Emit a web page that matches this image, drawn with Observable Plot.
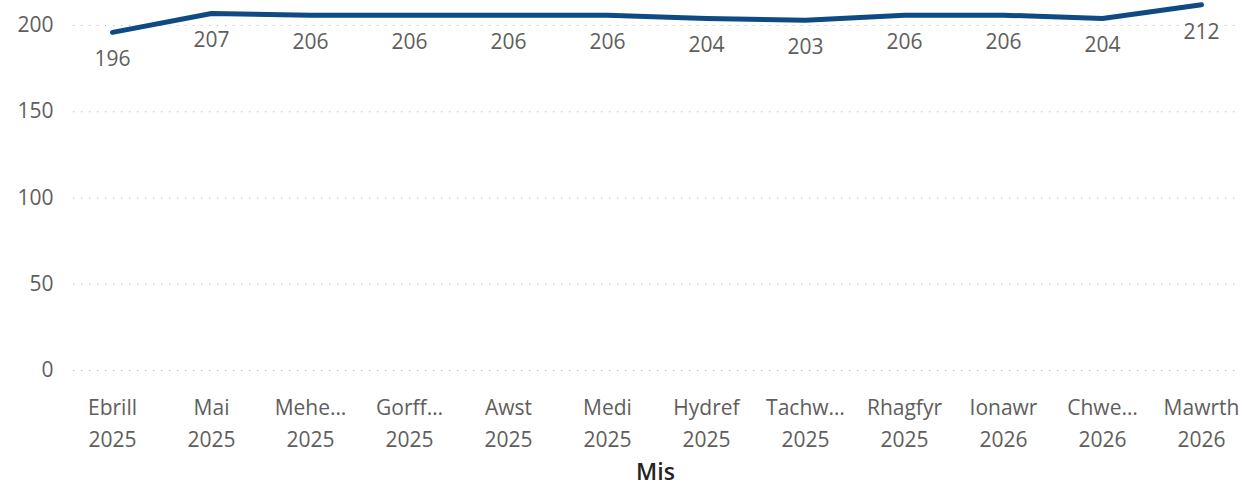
<!DOCTYPE html>
<html>
<head>
<meta charset="utf-8">
<script src="https://cdn.jsdelivr.net/npm/d3@7"></script>
<script src="https://cdn.jsdelivr.net/npm/@observablehq/plot@0.6"></script>
<style>
  html, body { margin: 0; padding: 0; background: #fff; }
  #chart { width: 1244px; height: 485px; }
</style>
</head>
<body>
<div id="chart"></div>
<script>
const months = ["Ebrill\n2025", "Mai\n2025", "Mehe…\n2025", "Gorff…\n2025", "Awst\n2025", "Medi\n2025",
                "Hydref\n2025", "Tachw…\n2025", "Rhagfyr\n2025", "Ionawr\n2026", "Chwe…\n2026", "Mawrth\n2026"];
const values = [196, 207, 206, 206, 206, 206, 204, 203, 206, 206, 204, 212];
const yTicks = [0, 50, 100, 150, 200];

const data = months.map((m, i) => ({month: m, value: values[i]}));

const font = "'Open Sans', 'Noto Sans', sans-serif";
const textColor = "#605E5C";

const chart = Plot.plot({
  width: 1244,
  height: 485,
  marginTop: 25,
  marginBottom: 115,
  marginLeft: 73,
  marginRight: 7,
  style: {fontFamily: font, background: "#fff", overflow: "visible"},
  x: {type: "point", domain: months, padding: 0, insetLeft: 36, insetRight: 33},
  y: {domain: [0, 200], ticks: yTicks},
  marks: [
    Plot.gridY(yTicks, {stroke: "#BEBBB8", strokeOpacity: 1, strokeWidth: 1.2, strokeDasharray: "1.2,6.8"}),
    Plot.axisY(yTicks, {tickSize: 0, tickPadding: 20, fontSize: 21, fill: textColor, label: null}),
    Plot.axisX({tickSize: 0, tickPadding: 22, fontSize: 21, fill: textColor, lineHeight: 1.52,
                label: "Mis", labelAnchor: "center", labelArrow: "none", labelOffset: 109}),
    Plot.line(data, {x: "month", y: "value", stroke: "#0F4A85", strokeWidth: 5, strokeLinecap: "round", strokeLinejoin: "round"}),
    Plot.text(data, {x: "month", y: "value", text: d => String(d.value), dy: 27, fontSize: 21, fill: textColor})
  ]
});
document.getElementById("chart").appendChild(chart);
chart.querySelectorAll("g[aria-label='x-axis label'] text").forEach(t => {
  t.setAttribute("font-weight", "600");
  t.setAttribute("font-size", "23");
  t.setAttribute("fill", "#252423");
});
</script>
</body>
</html>
